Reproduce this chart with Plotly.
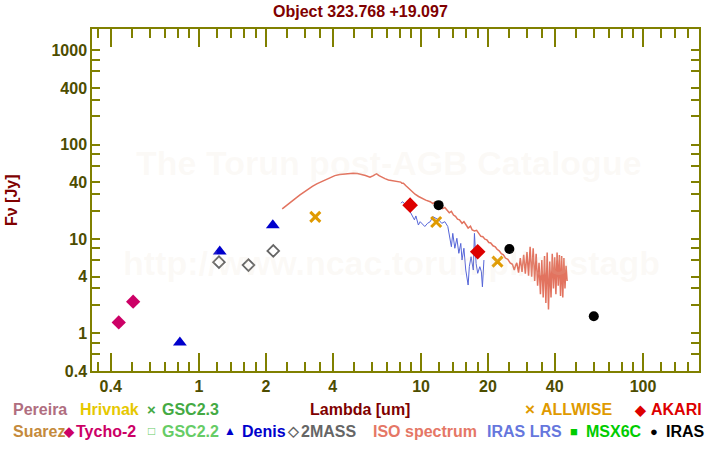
import plotly.graph_objects as go

# values (wavelength in um, flux in Jy)
tycho_wl = [0.435, 0.505]
tycho_flux = [1.31, 2.17]
denis_wl = [0.82, 1.24, 2.15]
denis_flux = [0.80, 7.4, 14.0]
twomass_wl = [1.23, 1.67, 2.16]
twomass_flux = [5.7, 5.3, 7.5]
allwise_wl = [3.34, 11.7, 22.1]
allwise_flux = [17.2, 15.2, 5.77]
akari_wl = [8.93, 18.0]
akari_flux = [22.9, 7.35]
iras_wl = [12.0, 25.0, 60.0]
iras_flux = [22.9, 7.85, 1.52]

iso_wl = [2.37, 2.50, 2.61, 2.73, 2.85, 2.97, 3.10, 3.24, 3.39, 3.54, 3.69, 3.89,
          4.09, 4.30, 4.54, 4.75, 4.95, 5.17, 5.40, 5.62, 5.89, 6.00, 6.10, 6.20,
          6.31, 6.47, 6.65, 6.88, 7.13, 7.50, 7.91, 8.10, 8.20, 8.33, 8.55, 8.77,
          9.10, 9.40, 9.75, 10.08, 10.5, 11.0, 11.3, 11.6, 11.9, 12.2, 12.5, 12.8,
          13.1, 13.4, 13.7, 14.0, 14.3, 14.6, 14.9, 15.3, 15.6, 16.0, 16.3, 16.7,
          17.0, 17.4, 17.8, 18.2, 18.6, 19.0, 19.4, 19.8, 20.2, 20.6, 21.1, 21.6,
          22.0, 22.5, 23.0, 23.5, 24.0, 24.6, 25.2, 25.8, 26.3, 26.7,
          27.0, 27.5, 28.0, 28.5, 29.0, 29.5, 30.0, 30.5, 31.0, 31.5, 32.0, 32.5,
          33.0, 33.5, 34.0, 34.5, 35.0, 35.5, 36.0, 36.5, 37.0, 37.5, 38.0, 38.5,
          39.0, 39.5, 40.0, 40.5, 41.0, 41.5, 42.0, 42.5, 43.0, 43.5, 44.0, 44.5,
          45.0, 45.5]
iso_flux = [20.9, 22.9, 24.9, 27.2, 29.4, 31.6, 33.8, 36.2, 38.5, 40.5, 42.4, 44.9,
            47.1, 48.3, 49.1, 49.7, 49.9, 49.5, 48.7, 47.3, 45.3, 46.0, 47.1, 48.2,
            49.1, 47.0, 45.3, 43.8, 42.4, 41.3, 40.6, 40.2, 39.0, 39.1, 36.8, 34.6,
            32.0, 29.9, 28.3, 27.1, 25.9, 24.9, 23.8, 24.9, 22.8, 22.1, 21.0, 21.6,
            20.4, 19.0, 19.7, 18.0, 17.4, 16.3, 16.0, 14.7, 15.3, 14.0, 13.1, 13.7,
            12.5, 12.2, 12.4, 11.5, 10.7, 10.6, 10.0, 9.8, 9.2, 9.1, 8.5, 8.3,
            7.8, 7.5, 7.0, 6.8, 6.3, 6.1, 5.6, 5.4, 4.7, 5.3,
            5.6, 4.4, 6.3, 4.5, 6.8, 4.3, 7.3, 4.1, 8.3, 4.0, 8.0, 3.6,
            7.0, 3.2, 5.6, 2.6, 6.0, 2.4, 6.6, 2.1, 7.2, 1.8, 5.8, 2.4,
            7.0, 3.0, 6.4, 2.6, 7.2, 3.2, 6.8, 2.5, 6.6, 2.4, 6.3, 3.0,
            5.2, 3.6]

lrs_wl = [8.13, 8.24, 8.47, 8.77, 8.93, 9.15, 9.34, 9.48, 9.73, 9.91, 10.1, 10.4,
          10.7, 11.0, 11.3, 11.6, 12.0, 12.4, 12.8, 13.2, 13.4, 13.7, 13.9, 14.2,
          14.5, 14.8, 15.1, 15.3, 15.6, 15.9, 16.3, 16.5, 16.8, 17.2, 17.4, 17.7,
          18.0, 18.4, 18.7, 18.9, 19.2]
lrs_flux = [24.0, 24.9, 23.6, 22.1, 19.5, 17.3, 16.0, 17.6, 14.1, 15.3, 14.7, 13.6,
            14.7, 15.3, 17.3, 16.6, 16.0, 14.7, 15.3, 13.6, 10.6, 8.3, 11.5, 8.0,
            10.2, 7.07, 9.0, 6.0, 8.0, 4.7, 3.26, 5.1, 6.5, 4.7, 11.5, 5.53,
            4.34, 5.1, 4.5, 3.12, 6.0]

x_major = [0.4, 1, 2, 4, 10, 20, 40, 100]
x_minor = [0.35, 0.5, 0.6, 0.7, 0.8, 0.9, 1.2, 1.4, 1.6, 1.8, 2.5, 3, 3.5, 5, 6, 7,
           8, 9, 12, 14, 16, 18, 25, 30, 35, 50, 60, 70, 80, 90, 120, 140, 160]
y_ticks = [0.4, 0.6, 0.8, 1, 2, 3, 4, 6, 8, 10, 20, 30, 40, 60, 80, 100,
           200, 300, 400, 600, 800, 1000]
y_labelled = [0.4, 1, 4, 10, 40, 100, 400, 1000]

AXIS = "#808000"
TICKTXT = "#4d4d00"
DARKRED = "#800000"
FONT = "Arial, Liberation Sans, sans-serif"

W, H = 720, 450
L, T, R, B = 92, 29, 21, 79
PW, PH = W - L - R, H - T - B


# helpers: window pixels -> paper coordinates
def px(x):
    return (x - L) / PW


def py(y):
    return (H - B - y) / PH


fig = go.Figure()

fig.add_trace(go.Scatter(x=iso_wl, y=iso_flux, mode="lines",
                         line=dict(color="#e2735f", width=1.5)))
fig.add_trace(go.Scatter(x=lrs_wl, y=lrs_flux, mode="lines",
                         line=dict(color="#5565d8", width=1)))
fig.add_trace(go.Scatter(x=tycho_wl, y=tycho_flux, mode="markers",
                         marker=dict(symbol="diamond", size=11, color="#cc0066")))
fig.add_trace(go.Scatter(x=denis_wl, y=denis_flux, mode="markers",
                         marker=dict(symbol="triangle-up", size=12, color="#0000cc")))
fig.add_trace(go.Scatter(x=twomass_wl, y=twomass_flux, mode="markers",
                         marker=dict(symbol="diamond-open", size=9, color="#666666",
                                     line=dict(width=1.8, color="#666666"))))
fig.add_trace(go.Scatter(x=allwise_wl, y=allwise_flux, mode="markers",
                         marker=dict(symbol="x-thin", size=10,
                                     line=dict(width=3, color="#e09a00"))))
fig.add_trace(go.Scatter(x=akari_wl, y=akari_flux, mode="markers",
                         marker=dict(symbol="diamond", size=12, color="#dd0000")))
fig.add_trace(go.Scatter(x=iras_wl, y=iras_flux, mode="markers",
                         marker=dict(symbol="circle", size=10, color="#000000")))

ann = []


def label(text, x, y, color, size=16, anchor="left", angle=0):
    ann.append(dict(text=text, x=px(x), y=py(y), xref="paper", yref="paper",
                    xanchor=anchor, yanchor="middle", showarrow=False,
                    textangle=angle,
                    font=dict(family=FONT, size=size, color=color, weight="bold")))


# watermark
wm = "rgba(225,210,185,0.13)"
label("The Torun post-AGB Catalogue", 389, 163, wm, size=34, anchor="center")
label("http://www.ncac.torun.pl/postagb", 391, 263, wm, size=34, anchor="center")

# titles
label("Object 323.768 +19.097", 360, 12, DARKRED, anchor="center")
label("Lambda [um]", 360, 409, DARKRED, anchor="center")
label("Fν [Jy]", 11, 200, DARKRED, anchor="center", angle=-90)

# source legend (two rows under the axis)
r1, r2 = 410, 431
label("Pereira", 11, r1, "#b06e80")
label("Hrivnak", 78, r1, "#e6c800")
label("×", 151, r1, "#44aa44", size=15, anchor="center")
label("GSC2.3", 160, r1, "#44aa44")
label("×", 530, r1, "#e09a00", size=17, anchor="center")
label("ALLWISE", 539, r1, "#e09a00")
label("◆", 640, r1, "#dd0000", size=14, anchor="center")
label("AKARI", 649, r1, "#dd0000")

label("Suarez", 11, r2, "#c48a3c")
label("◆", 69, r2, "#cc0066", size=13, anchor="center")
label("Tycho-2", 74, r2, "#cc0066")
label("□", 151, r2, "#66cc66", size=12, anchor="center")
label("GSC2.2", 160, r2, "#66cc66")
label("▲", 230, r2, "#0000cc", size=12, anchor="center")
label("Denis", 240, r2, "#0000cc")
label("◇", 293, r2, "#666666", size=14, anchor="center")
label("2MASS", 299, r2, "#666666")
label("ISO spectrum", 371, r2, "#e57766")
label("IRAS LRS", 485, r2, "#6677dd")
label("■", 574, r2, "#00cc00", size=13, anchor="center")
label("MSX6C", 584, r2, "#00cc00")
label("●", 654, r2, "#000000", size=13, anchor="center")
label("IRAS", 664, r2, "#000000")

tickfont = dict(family=FONT, size=16, color=TICKTXT, weight="bold")

fig.update_layout(
    width=W, height=H,
    margin=dict(l=L, r=R, t=T, b=B),
    plot_bgcolor="white", paper_bgcolor="white",
    showlegend=False,
    annotations=ann,
    xaxis=dict(
        type="log", range=[-0.482, 2.252],
        tickvals=x_major, ticktext=[f"{v:g}" for v in x_major],
        ticks="inside", ticklen=18, tickwidth=1.5, tickcolor=AXIS,
        showline=True, linecolor=AXIS, linewidth=1.5, mirror="ticks",
        showgrid=False, zeroline=False, tickfont=tickfont,
        minor=dict(tickvals=x_minor, ticks="inside", ticklen=9,
                   tickwidth=1.5, tickcolor=AXIS, showgrid=False),
    ),
    yaxis=dict(
        type="log", range=[-0.398, 3.227],
        tickvals=y_ticks,
        ticktext=[f"{v:g}" if v in y_labelled else "" for v in y_ticks],
        ticks="inside", ticklen=8, tickwidth=1.5, tickcolor=AXIS,
        showline=True, linecolor=AXIS, linewidth=1.5, mirror="ticks",
        showgrid=False, zeroline=False, tickfont=tickfont,
    ),
)

# drop the browser's default 8px body margin so the figure fills the window
fig.write_html("out.html", config={"displayModeBar": False},
               post_script="document.body.style.margin = '0';")
